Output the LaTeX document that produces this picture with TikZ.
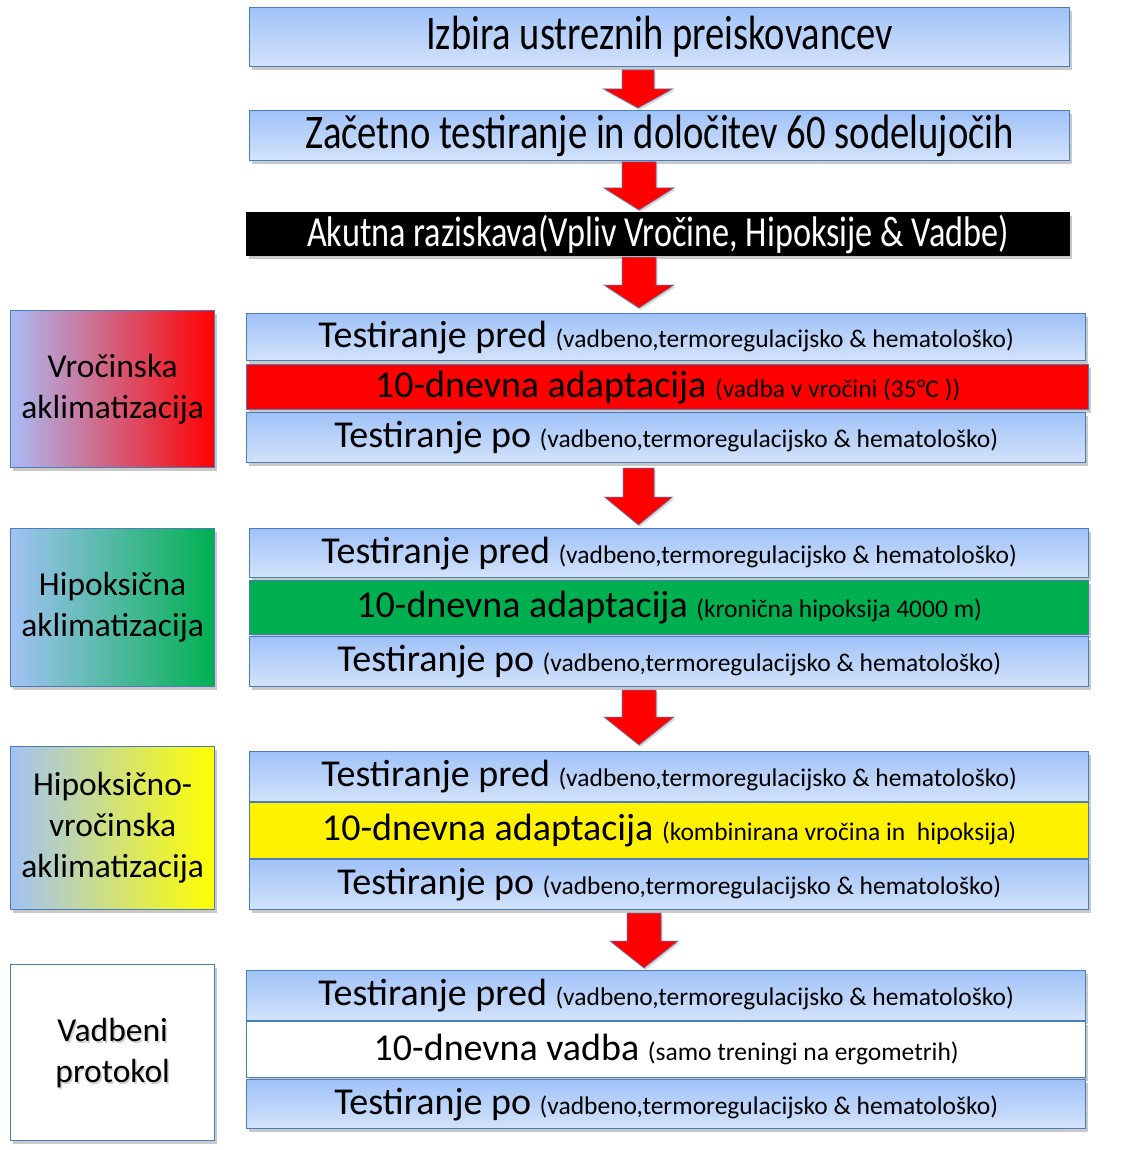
\documentclass[tikz,border=0pt]{standalone}
\usepackage{fontspec}
\setmainfont{Carlito}
\usetikzlibrary{shadows}
\definecolor{bord}{HTML}{4A7EBB}
\definecolor{btop}{HTML}{A0C2F8}
\definecolor{bbot}{HTML}{D3E3FB}
\definecolor{lblue}{HTML}{AABBF6}
\definecolor{lblue2}{HTML}{A2C2F4}
\definecolor{pinkm}{HTML}{E4A2C6}
\definecolor{cyanm}{HTML}{8EC4E6}
\definecolor{creamm}{HTML}{DDEBC6}
\definecolor{pgreen}{HTML}{00B050}
\newcommand\myM{\fontsize{38}{44}\selectfont}
\newcommand\myS{\fontsize{25.5}{30}\selectfont}
\newcommand\myL{\fontsize{33.5}{41}\selectfont}
\tikzset{
  base/.style={draw=bord, line width=1.3pt, inner sep=0pt, anchor=north west, align=center,
    drop shadow={shadow xshift=2pt, shadow yshift=-3pt, opacity=0.35, fill=black!60}},
  bluebox/.style={base, top color=btop, bottom color=bbot},
  blackbox/.style={base, draw=black, fill=black, text=white},
  redbox/.style={base, fill=red},
  greenbox/.style={base, fill=pgreen},
  yellowbox/.style={base, fill=yellow},
  whitebox/.style={base, fill=white},
  leftbox/.style={base, font=\myL},
  gradred/.style={leftbox, left color=lblue, middle color=pinkm, right color=red},
  gradgreen/.style={leftbox, left color=lblue2, middle color=cyanm, right color=pgreen},
  gradyellow/.style={leftbox, left color=lblue2, middle color=creamm, right color=yellow},
  arrowshape/.style={fill=red, draw=bord, draw opacity=0.6, line width=1pt, line join=miter,
    drop shadow={shadow xshift=1.5pt, shadow yshift=-2pt, opacity=0.25, fill=black!60}},
}
% block arrow: centre x, half shaft, half head, top, head start, tip
\newcommand\blkarrow[6]{%
  \path[arrowshape] (#1-#2,#4) -- (#1+#2,#4) -- (#1+#2,#5) -- (#1+#3,#5) -- (#1,#6)
    -- (#1-#3,#5) -- (#1-#2,#5) -- cycle;}
\newcommand\testpred{\myM Testiranje pred {\myS (vadbeno,termoregulacijsko \& hematološko)}}
\newcommand\testpo{\myM Testiranje po {\myS (vadbeno,termoregulacijsko \& hematološko)}}
\begin{document}
\begin{tikzpicture}[x=1pt,y=-1pt]
\useasboundingbox[fill=white] (0,0) rectangle (1126,1150);

% top boxes
\node[bluebox, minimum width=820pt, minimum height=59pt] (b1) at (249,7)
  {\scalebox{1}[1.25]{\resizebox{467pt}{!}{\myM Izbira ustreznih preiskovancev}}};
\node[bluebox, minimum width=820pt, minimum height=50pt] (b2) at (249,110)
  {\scalebox{1}[1.25]{\resizebox{709pt}{!}{\myM Začetno testiranje in določitev 60 sodelujočih}}};
\node[blackbox, minimum width=823pt, minimum height=43pt] (b3) at (246,212)
  {\scalebox{1}[1.25]{\resizebox{702pt}{!}{\myM Akutna raziskava(Vpliv Vročine, Hipoksije \& Vadbe)}}};

% group 1
\node[gradred, minimum width=204pt, minimum height=157pt] (g1) at (10,310)
  {Vročinska\\aklimatizacija};
\node[bluebox, minimum width=839pt, minimum height=47pt] (r11) at (246,313) {\testpred};
\node[redbox, minimum width=842pt, minimum height=45pt] (r12) at (246,364)
  {\myM 10-dnevna adaptacija {\myS (vadba v vročini (35°C ))}};
\node[bluebox, minimum width=839pt, minimum height=50pt] (r13) at (246,412) {\testpo};

% group 2
\node[gradgreen, minimum width=204pt, minimum height=158pt] (g2) at (10,528)
  {Hipoksična\\aklimatizacija};
\node[bluebox, minimum width=839pt, minimum height=49pt] (r21) at (249,528) {\testpred};
\node[greenbox, minimum width=839pt, minimum height=54pt] (r22) at (249,580)
  {\myM 10-dnevna adaptacija {\myS (kronična hipoksija 4000 m)}};
\node[bluebox, minimum width=839pt, minimum height=50pt] (r23) at (249,636) {\testpo};

% group 3
\node[gradyellow, minimum width=204pt, minimum height=163pt] (g3) at (10,746)
  {Hipoksično-\\vročinska\\aklimatizacija};
\node[bluebox, minimum width=839pt, minimum height=50pt] (r31) at (249,751) {\testpred};
\node[yellowbox, minimum width=839pt, minimum height=56pt] (r32) at (249,802)
  {\myM 10-dnevna adaptacija {\myS (kombinirana vročina in\ \ hipoksija)}};
\node[bluebox, minimum width=839pt, minimum height=50pt] (r33) at (249,859) {\testpo};

% group 4
\node[whitebox, minimum width=204pt, minimum height=176pt] (g4) at (10,964) {};
\node[text=black!40, opacity=0.45, align=center, font=\myL] (g4s) at ([xshift=1.5pt,yshift=-2pt]g4.center)
  {Vadbeni\\protokol};
\node[align=center, font=\myL] (g4t) at (g4.center) {Vadbeni\\protokol};
\node[bluebox, minimum width=839pt, minimum height=50pt] (r41) at (246,970) {\testpred};
\node[whitebox, minimum width=839pt, minimum height=56pt] (r42) at (246,1021)
  {\myM 10-dnevna vadba {\myS (samo treningi na ergometrih)}};
\node[bluebox, minimum width=839pt, minimum height=49pt] (r43) at (246,1079) {\testpo};

% arrows
\blkarrow{638}{16}{34.5}{70}{89}{108}
\blkarrow{639}{17}{35}{162}{188}{210}
\blkarrow{639}{17}{35}{257}{285}{308}
\blkarrow{638.5}{15.5}{34}{468}{497}{525}
\blkarrow{639}{17}{35}{690}{717}{745}
\blkarrow{644}{17}{34}{913}{941}{968}
\end{tikzpicture}
\end{document}
